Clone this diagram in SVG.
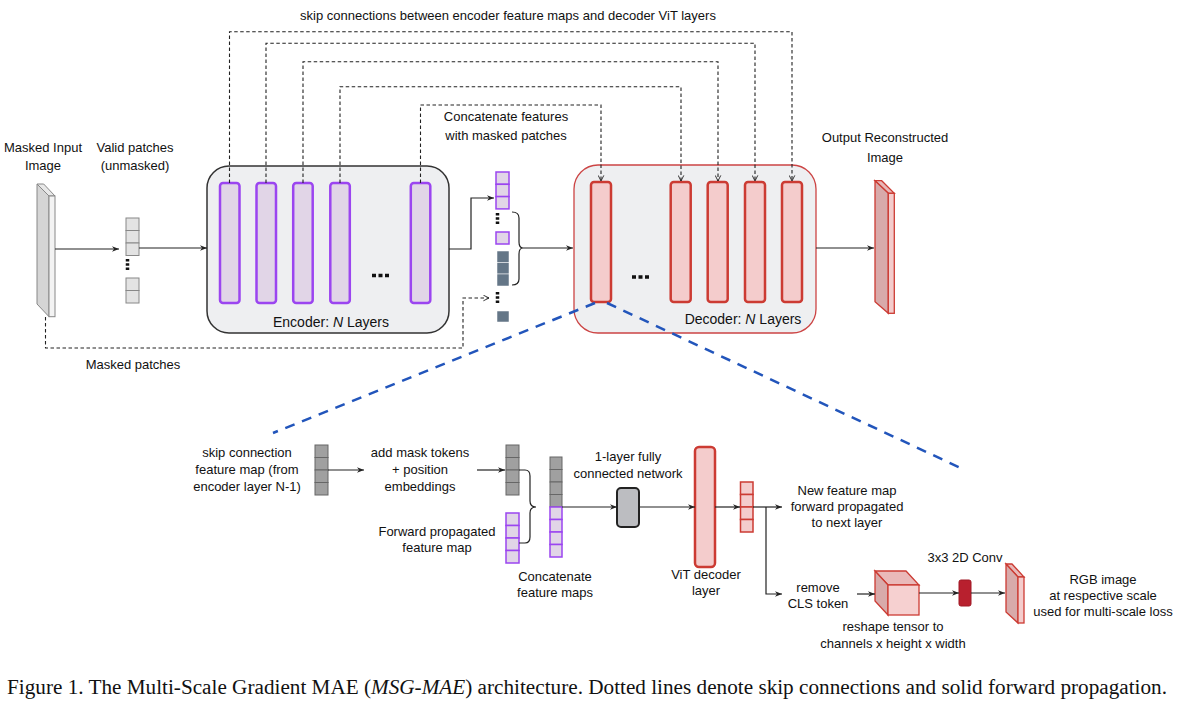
<svg xmlns="http://www.w3.org/2000/svg" width="1179" height="702" viewBox="0 0 1179 702">
<style>
text{font-family:"Liberation Sans",Arial,sans-serif;font-size:13px;fill:#111;text-anchor:middle}
.cap{font-family:"Liberation Serif","Times New Roman",serif;font-size:20px;text-anchor:start}
.ln{fill:none;stroke:#222;stroke-width:1.2}
.dl{fill:none;stroke:#222;stroke-width:1.1;stroke-dasharray:3.5,2.5}
.blue{fill:none;stroke:#2255bb;stroke-width:2.5;stroke-dasharray:10,8}
.dots{fill:none;stroke:#111;stroke-width:3.5}
.pbar{fill:#e1d5e7;stroke:#9b45f0;stroke-width:2.5}
.rbar{fill:#f4cccc;stroke:#cc3b33;stroke-width:2.5}
.gp{fill:#e3e3e3;stroke:#888;stroke-width:1}
.pp{fill:#e1d5e7;stroke:#9b45f0;stroke-width:1.5}
.sp{fill:#647687;stroke:#fff;stroke-width:0.5}
.mp{fill:#a0a0a0;stroke:#666;stroke-width:1}
.rp{fill:#f4cccc;stroke:#cc3b33;stroke-width:1.5}
</style>
<defs>
<marker id="a" viewBox="0 0 10 10" refX="10" refY="5" markerWidth="7" markerHeight="7" markerUnits="userSpaceOnUse" orient="auto"><path d="M0,1 L10,5 L0,9 L3,5 z" fill="#222"/></marker>
<marker id="o" viewBox="0 0 10 10" refX="9" refY="5" markerWidth="7" markerHeight="7" markerUnits="userSpaceOnUse" orient="auto"><path d="M1,1 L9,5 L1,9" fill="none" stroke="#222" stroke-width="1.3"/></marker>
</defs>
<rect width="1179" height="702" fill="#fff"/>

<text x="508" y="20">skip connections between encoder feature maps and decoder ViT layers</text>
<text x="506" y="121">Concatenate features</text>
<text x="506" y="140">with masked patches</text>

<g id="input-image">
<polygon points="37,184 43.7,184 55,196 49,196" fill="#e8e8e8" stroke="#888" stroke-width="1"/>
<polygon points="37,184 49,196 49,316.7 37,304" fill="#d5d5d5" stroke="#888" stroke-width="1"/>
<rect x="49" y="196" width="6" height="120.7" fill="#f3f3f3" stroke="#888" stroke-width="1"/>
<text x="43" y="152">Masked Input</text>
<text x="43" y="170">Image</text>
</g>

<g id="valid-patches">
<rect class="gp" x="126" y="218" width="13" height="12.5"/>
<rect class="gp" x="126" y="230.5" width="13" height="12.5"/>
<rect class="gp" x="126" y="243" width="13" height="12.5"/>
<path class="dots" d="M127.5,259 V272" stroke-dasharray="2.5,1.8"/>
<rect class="gp" x="126" y="278" width="13" height="12.5"/>
<rect class="gp" x="126" y="290.5" width="13" height="12.5"/>
<text x="135" y="152">Valid patches</text>
<text x="135" y="170">(unmasked)</text>
</g>
<text x="133" y="369">Masked patches</text>

<g id="encoder">
<rect x="207" y="166" width="242" height="167" rx="22" fill="#eeeff1" stroke="#333" stroke-width="1.5"/>
<rect class="pbar" x="220" y="183" width="19.5" height="120" rx="3"/>
<rect class="pbar" x="256.5" y="183" width="19.5" height="120" rx="3"/>
<rect class="pbar" x="293.2" y="183" width="19.5" height="120" rx="3"/>
<rect class="pbar" x="330.3" y="183" width="19.5" height="120" rx="3"/>
<rect class="pbar" x="410.8" y="183" width="19.5" height="120" rx="3"/>
<path class="dots" d="M372,275.5 H389" stroke-dasharray="4,2.5" stroke-width="4"/>
<text x="331" y="327" style="font-size:14px">Encoder: <tspan font-style="italic">N</tspan> Layers</text>
</g>

<g id="concat-patches">
<rect class="pp" x="496" y="172" width="13" height="12.3"/>
<rect class="pp" x="496" y="184.3" width="13" height="12.3"/>
<rect class="pp" x="496" y="196.6" width="13" height="12.3"/>
<path class="dots" d="M497.5,213 V226" stroke-dasharray="2.5,1.8"/>
<rect class="pp" x="496" y="232" width="13" height="12"/>
<rect class="sp" x="497" y="251" width="12" height="11.5"/>
<rect class="sp" x="497" y="262.5" width="12" height="11.5"/>
<rect class="sp" x="497" y="274" width="12" height="12"/>
<path class="dots" d="M497.5,292 V305" stroke-dasharray="2.5,1.8"/>
<rect class="sp" x="497" y="311" width="12" height="11"/>
</g>

<g id="decoder">
<rect x="574" y="165" width="242" height="168" rx="24" fill="#eeeff1" stroke="#cc4444" stroke-width="1.3"/>
<rect class="rbar" x="591" y="182" width="20" height="120" rx="3"/>
<rect class="rbar" x="670.7" y="182" width="20" height="120" rx="3"/>
<rect class="rbar" x="707.7" y="182" width="20" height="120" rx="3"/>
<rect class="rbar" x="745" y="182" width="20" height="120" rx="3"/>
<rect class="rbar" x="782" y="182" width="20" height="120" rx="3"/>
<path class="dots" d="M632,277 H649" stroke-dasharray="4,2.5" stroke-width="4"/>
<text x="743" y="324" style="font-size:14px">Decoder: <tspan font-style="italic">N</tspan> Layers</text>
</g>

<g id="output-image">
<polygon points="875,180.7 881.7,180.7 894.3,193.3 888.3,193.3" fill="#e8b8b8" stroke="#cc3b33" stroke-width="1.3"/>
<polygon points="875,180.7 888.3,193.3 888.3,313.3 875,301.7" fill="#d8aaaa" stroke="#cc3b33" stroke-width="1.3"/>
<rect x="888.3" y="193.3" width="6" height="120" fill="#f4cccc" stroke="#cc3b33" stroke-width="1.3"/>
<text x="885" y="142">Output Reconstructed</text>
<text x="885" y="162">Image</text>
</g>

<g id="skip-feature-map">
<rect class="mp" x="315" y="445" width="13" height="12.5"/>
<rect class="mp" x="315" y="457.5" width="13" height="12.5"/>
<rect class="mp" x="315" y="470" width="13" height="12.5"/>
<rect class="mp" x="315" y="482.5" width="13" height="12.5"/>
<text x="247" y="457">skip connection</text>
<text x="247" y="474">feature map (from</text>
<text x="247" y="491">encoder layer N-1)</text>
</g>
<text x="420" y="457">add mask tokens</text>
<text x="420" y="474">+ position</text>
<text x="420" y="491">embeddings</text>

<g id="masked-feature-map">
<rect class="mp" x="506" y="445" width="13" height="12.5"/>
<rect class="mp" x="506" y="457.5" width="13" height="12.5"/>
<rect class="mp" x="506" y="470" width="13" height="12.5"/>
<rect class="mp" x="506" y="482.5" width="13" height="12.5"/>
</g>

<g id="forward-feature-map">
<rect class="pp" x="506" y="513" width="13" height="12.5"/>
<rect class="pp" x="506" y="525.5" width="13" height="12.5"/>
<rect class="pp" x="506" y="538" width="13" height="12.5"/>
<rect class="pp" x="506" y="550.5" width="13" height="12.5"/>
<text x="437" y="536">Forward propagated</text>
<text x="437" y="552">feature map</text>
</g>

<g id="concat-feature-maps">
<rect class="mp" x="550" y="457" width="12" height="12.5"/>
<rect class="mp" x="550" y="469.5" width="12" height="12.5"/>
<rect class="mp" x="550" y="482" width="12" height="12.5"/>
<rect class="mp" x="550" y="494.5" width="12" height="12.5"/>
<rect class="pp" x="550" y="507" width="12" height="12.5"/>
<rect class="pp" x="550" y="519.5" width="12" height="12.5"/>
<rect class="pp" x="550" y="532" width="12" height="12.5"/>
<rect class="pp" x="550" y="544.5" width="12" height="12.5"/>
<text x="555" y="581">Concatenate</text>
<text x="555" y="597">feature maps</text>
</g>

<g id="fc-network">
<rect x="617" y="488" width="22" height="39" rx="4" fill="#bcbdc1" stroke="#222" stroke-width="2"/>
<text x="628" y="461">1-layer fully</text>
<text x="628" y="478">connected network</text>
</g>

<g id="vit-decoder-layer">
<rect class="rbar" x="695" y="447" width="20" height="120" rx="4" stroke-width="3"/>
<text x="706" y="579">ViT decoder</text>
<text x="706" y="595">layer</text>
</g>

<g id="new-feature-map">
<rect class="rp" x="740.5" y="482" width="12.5" height="12.5"/>
<rect class="rp" x="740.5" y="494.5" width="12.5" height="12.5"/>
<rect class="rp" x="740.5" y="507" width="12.5" height="12.5"/>
<rect class="rp" x="740.5" y="519.5" width="12.5" height="12.5"/>
<text x="847" y="495">New feature map</text>
<text x="847" y="511">forward propagated</text>
<text x="847" y="527">to next layer</text>
</g>
<text x="818" y="592">remove</text>
<text x="818" y="608">CLS token</text>

<g id="reshape-tensor">
<polygon points="875,571 906,571 919,585 888,585" fill="#eab9b9" stroke="#cc3b33" stroke-width="1.3"/>
<polygon points="875,571 888,585 888,615 875,601" fill="#d8aaaa" stroke="#cc3b33" stroke-width="1.3"/>
<rect x="888" y="585" width="31" height="30" fill="#f6d0d0" stroke="#cc3b33" stroke-width="1.3"/>
<text x="893" y="631">reshape tensor to</text>
<text x="893" y="648">channels x height x width</text>
</g>

<g id="conv">
<rect x="959" y="580" width="12" height="26" rx="2" fill="#b8202e" stroke="#a01825" stroke-width="1"/>
<text x="965" y="562">3x3 2D Conv</text>
</g>

<g id="rgb-image">
<polygon points="1006,564 1012,564 1024,577 1018,577" fill="#e8b8b8" stroke="#cc3b33" stroke-width="1.3"/>
<polygon points="1006,564 1018,577 1018,623 1006,612" fill="#d8aaaa" stroke="#cc3b33" stroke-width="1.3"/>
<rect x="1018" y="577" width="6" height="46" fill="#f4cccc" stroke="#cc3b33" stroke-width="1.3"/>
<text x="1103" y="584">RGB image</text>
<text x="1103" y="600">at respective scale</text>
<text x="1103" y="616">used for multi-scale loss</text>
</g>

<g id="connectors">
<path class="dl" d="M229.5,183 V31.7 H792 V181" marker-end="url(#o)"/>
<path class="dl" d="M266,183 V43.3 H755 V181" marker-end="url(#o)"/>
<path class="dl" d="M303,183 V61.7 H718 V181" marker-end="url(#o)"/>
<path class="dl" d="M340,183 V86.7 H681 V181" marker-end="url(#o)"/>
<path class="dl" d="M420.5,183 V105 H601 V181" marker-end="url(#o)"/>
<path class="dl" d="M45.5,317 V348 H463 V298 H489" marker-end="url(#o)"/>
<path class="ln" d="M55,249 H119" marker-end="url(#a)"/>
<path class="ln" d="M139,248 H207" marker-end="url(#a)"/>
<path class="ln" d="M449,249 H471 V198 H494" marker-end="url(#a)"/>
<path class="ln" d="M512,212 Q519,212 519,218 V242 Q519,248 523,248 Q519,248 519,254 V279 Q519,285 512,285"/>
<path class="ln" d="M523,248 H573" marker-end="url(#a)"/>
<path class="ln" d="M816,248 H874" marker-end="url(#a)"/>
<path class="blue" d="M595,303 L273,433"/>
<path class="blue" d="M607,303 L965,470"/>
<path class="ln" d="M328,470 H364" marker-end="url(#a)"/>
<path class="ln" d="M477,470 H505" marker-end="url(#a)"/>
<path class="ln" d="M519,470 H525 Q530,470 530,476 V501 Q530,507 536,507 Q530,507 530,513 V537 Q530,543 525,543 H519"/>
<path class="ln" d="M562,507 H617" marker-end="url(#a)"/>
<path class="ln" d="M639,507 H695" marker-end="url(#a)"/>
<path class="ln" d="M715,507 H740" marker-end="url(#a)"/>
<path class="ln" d="M753,507 H782" marker-end="url(#a)"/>
<path class="ln" d="M766,507 V594 H782" marker-end="url(#a)"/>
<path class="ln" d="M857,594 H875" marker-end="url(#a)"/>
<path class="ln" d="M919,593 H959" marker-end="url(#a)"/>
<path class="ln" d="M971,593 H1005" marker-end="url(#a)"/>
</g>

<text class="cap" x="7" y="694" textLength="1160" lengthAdjust="spacingAndGlyphs">Figure 1. The Multi-Scale Gradient MAE (<tspan font-style="italic">MSG-MAE</tspan>) architecture. Dotted lines denote skip connections and solid forward propagation.</text>
</svg>
